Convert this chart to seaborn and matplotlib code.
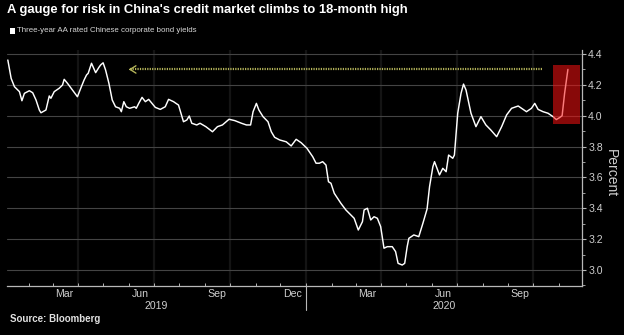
import matplotlib
matplotlib.use("Agg")
import matplotlib.pyplot as plt
import matplotlib.dates as mdates
import matplotlib.transforms as mtransforms
from matplotlib.patches import Rectangle
import pandas as pd
import seaborn as sns

# Three-year AA rated Chinese corporate bond yields (percent)
dates = [
    "2019-01-06", "2019-01-10", "2019-01-14", "2019-01-18", "2019-01-20", "2019-01-23",
    "2019-01-26", "2019-02-01", "2019-02-05", "2019-02-09", "2019-02-13", "2019-02-15",
    "2019-02-21", "2019-02-25", "2019-02-27", "2019-03-03", "2019-03-09", "2019-03-13",
    "2019-03-15", "2019-03-19", "2019-03-25", "2019-03-31", "2019-04-04", "2019-04-08",
    "2019-04-11", "2019-04-13", "2019-04-17", "2019-04-22", "2019-04-26", "2019-04-28",
    "2019-05-01", "2019-05-04", "2019-05-08", "2019-05-12", "2019-05-16", "2019-05-21",
    "2019-05-23", "2019-05-26", "2019-05-29", "2019-06-02", "2019-06-08", "2019-06-10",
    "2019-06-13", "2019-06-17", "2019-06-21", "2019-06-25", "2019-06-29", "2019-07-03",
    "2019-07-09", "2019-07-15", "2019-07-19", "2019-07-25", "2019-07-31", "2019-08-06",
    "2019-08-10", "2019-08-13", "2019-08-16", "2019-08-22", "2019-08-26", "2019-09-02",
    "2019-09-10", "2019-09-16", "2019-09-22", "2019-09-30", "2019-10-07", "2019-10-15",
    "2019-10-21", "2019-10-26", "2019-10-29", "2019-11-02", "2019-11-05", "2019-11-10",
    "2019-11-16", "2019-11-20", "2019-11-24", "2019-11-30", "2019-12-08", "2019-12-14",
    "2019-12-20", "2019-12-26", "2020-01-02", "2020-01-09", "2020-01-13", "2020-01-17",
    "2020-01-21", "2020-01-25", "2020-01-28", "2020-01-31", "2020-02-04", "2020-02-08",
    "2020-02-12", "2020-02-18", "2020-02-24", "2020-02-28", "2020-03-04", "2020-03-09",
    "2020-03-11", "2020-03-15", "2020-03-19", "2020-03-23", "2020-03-27", "2020-03-31",
    "2020-04-04", "2020-04-08", "2020-04-14", "2020-04-18", "2020-04-21", "2020-04-26",
    "2020-04-29", "2020-05-02", "2020-05-04", "2020-05-10", "2020-05-16", "2020-05-21",
    "2020-05-26", "2020-05-29", "2020-06-02", "2020-06-04", "2020-06-10", "2020-06-14",
    "2020-06-18", "2020-06-21", "2020-06-26", "2020-06-28", "2020-07-02", "2020-07-06",
    "2020-07-09", "2020-07-12", "2020-07-18", "2020-07-24", "2020-07-30", "2020-08-05",
    "2020-08-11", "2020-08-18", "2020-08-24", "2020-08-30", "2020-09-05", "2020-09-13",
    "2020-09-19", "2020-09-23", "2020-09-29", "2020-10-03", "2020-10-07", "2020-10-13",
    "2020-10-19", "2020-10-25", "2020-10-29", "2020-11-02", "2020-11-05", "2020-11-08",
    "2020-11-12",
]
yields = [
    4.361, 4.242, 4.188, 4.167, 4.156, 4.097,
    4.145, 4.162, 4.149, 4.102, 4.037, 4.019,
    4.037, 4.128, 4.113, 4.156, 4.178, 4.199,
    4.236, 4.210, 4.167, 4.123, 4.178, 4.231,
    4.264, 4.275, 4.340, 4.279, 4.314, 4.329,
    4.343, 4.296, 4.210, 4.102, 4.058, 4.048,
    4.026, 4.091, 4.058, 4.048, 4.058, 4.048,
    4.080, 4.119, 4.091, 4.106, 4.080, 4.054,
    4.041, 4.058, 4.106, 4.091, 4.069, 3.961,
    3.972, 3.998, 3.951, 3.940, 3.951, 3.929,
    3.896, 3.929, 3.940, 3.977, 3.968, 3.951,
    3.940, 3.940, 4.026, 4.080, 4.037, 3.994,
    3.961, 3.896, 3.860, 3.843, 3.831, 3.804,
    3.847, 3.825, 3.789, 3.734, 3.692, 3.692,
    3.702, 3.680, 3.572, 3.562, 3.497, 3.465,
    3.432, 3.389, 3.356, 3.335, 3.259, 3.313,
    3.389, 3.400, 3.324, 3.345, 3.335, 3.281,
    3.141, 3.151, 3.151, 3.119, 3.043, 3.032,
    3.043, 3.151, 3.205, 3.227, 3.216, 3.303,
    3.395, 3.540, 3.669, 3.702, 3.616, 3.659,
    3.637, 3.745, 3.724, 3.745, 4.016, 4.145,
    4.205, 4.167, 4.016, 3.929, 3.994, 3.940,
    3.907, 3.864, 3.929, 4.005, 4.048, 4.063,
    4.041, 4.026, 4.048, 4.080, 4.041, 4.026,
    4.016, 3.994, 3.975, 3.988, 4.000, 4.145,
    4.300,
]

title = "A gauge for risk in China's credit market climbs to 18-month high"
series_name = "Three-year AA rated Chinese corporate bond yields"
source_text = "Source: Bloomberg"
y_label = "Percent"
y_ticks = [3.0, 3.2, 3.4, 3.6, 3.8, 4.0, 4.2, 4.4]
month_labels = ["Mar", "Jun", "Sep", "Dec", "Mar", "Jun", "Sep"]
month_label_dates = ["2019-03-15", "2019-06-15", "2019-09-15", "2019-12-15",
                     "2020-03-15", "2020-06-15", "2020-09-15"]
year_labels = ["2019", "2020"]
x_range = ["2019-01-05", "2020-11-29"]
y_range = [2.896, 4.426]

# 18-month high reference and the highlighted latest move
high_level = 4.30
arrow_start, arrow_end = "2020-10-12", "2019-06-01"
box_start, box_end = "2020-10-25", "2020-11-27"
box_low, box_high = 3.945, 4.328

BG = "black"
GRID_H = "#444444"
GRID_V = "#141414"
AXIS = "#b8b8b8"
TICK_TXT = "#cfcfcf"
ARROW = "#b5b55a"

sns.set_theme(style="dark", rc={
    "figure.facecolor": BG, "axes.facecolor": BG, "savefig.facecolor": BG,
    "axes.edgecolor": AXIS, "text.color": "white",
    "xtick.color": AXIS, "ytick.color": AXIS,
})
plt.rcParams["font.family"] = ["Liberation Sans Narrow", "Liberation Sans", "DejaVu Sans"]

df = pd.DataFrame({"date": pd.to_datetime(dates), "yield": yields})

fig = plt.figure(figsize=(6.24, 3.35), dpi=100)
ax = fig.add_axes([7 / 624, 1 - 286 / 335, (582 - 7) / 624, (286 - 50) / 335])

sns.lineplot(data=df, x="date", y="yield", ax=ax, color="white", linewidth=1.05, zorder=3)

ax.set_xlim(pd.to_datetime(x_range[0]), pd.to_datetime(x_range[1]))
ax.set_ylim(*y_range)
ax.set_xlabel("")
ax.set_ylabel("")

# spines
for side in ("top", "left"):
    ax.spines[side].set_visible(False)
for side in ("bottom", "right"):
    ax.spines[side].set_visible(True)
    ax.spines[side].set_color(AXIS)
    ax.spines[side].set_linewidth(0.9)

# y axis on the right
ax.yaxis.tick_right()
ax.set_yticks(y_ticks)
ax.set_yticklabels([f"{v:.1f}" for v in y_ticks])
ax.yaxis.set_minor_locator(matplotlib.ticker.MultipleLocator(0.1))
ax.tick_params(axis="y", which="major", direction="out", length=3, width=0.8,
               pad=1.5, labelsize=7.6, labelcolor=TICK_TXT, right=True, left=False)
ax.tick_params(axis="y", which="minor", direction="out", length=2, width=0.6,
               right=True, left=False)
ax.grid(axis="y", which="major", color=GRID_H, linewidth=0.8)

# x axis: quarter gridlines, month ticks, centred month labels
ax.xaxis.set_major_locator(mdates.MonthLocator(bymonth=[1, 4, 7, 10]))
ax.xaxis.set_minor_locator(mdates.MonthLocator())
ax.xaxis.set_major_formatter(matplotlib.ticker.NullFormatter())
ax.tick_params(axis="x", which="both", direction="in", length=2.5, width=0.7,
               bottom=True, top=False, labelbottom=False)
ax.grid(axis="x", which="major", color=GRID_V, linewidth=1.6)

xtrans = mtransforms.blended_transform_factory(ax.transData, ax.transAxes)
for lab, d in zip(month_labels, month_label_dates):
    ax.text(pd.to_datetime(d), -0.032, lab, transform=xtrans, ha="center", va="center",
            fontsize=7.6, color=TICK_TXT)

# year labels centred on the visible part of each year, with a separator at the boundary
x0, x1 = ax.get_xlim()
for lab in year_labels:
    a = max(mdates.date2num(pd.Timestamp(f"{lab}-01-01")), x0)
    b = min(mdates.date2num(pd.Timestamp(f"{int(lab) + 1}-01-01")), x1)
    ax.text((a + b) / 2, -0.085, lab, transform=xtrans, ha="center", va="center",
            fontsize=7.6, color=TICK_TXT)
    if x0 < mdates.date2num(pd.Timestamp(f"{lab}-01-01")) < x1:
        ax.plot([pd.Timestamp(f"{lab}-01-01")] * 2, [0, -0.1], transform=xtrans,
                color=AXIS, linewidth=0.8, clip_on=False)

ax.text(1.05, 0.48, y_label, transform=ax.transAxes, rotation=270, ha="center",
        va="center", fontsize=10, color=TICK_TXT)

# dotted pointer back to the previous time yields were this high
ax.plot([pd.Timestamp(arrow_start), pd.Timestamp(arrow_end)], [high_level, high_level],
        color=ARROW, linewidth=1.6, linestyle=(0, (0.55, 0.55)), zorder=2)
ax.annotate("", xy=(pd.Timestamp(arrow_end), high_level),
            xytext=(pd.Timestamp(arrow_end) + pd.Timedelta(days=6), high_level),
            arrowprops=dict(arrowstyle="->,head_length=0.35,head_width=0.22",
                            color=ARROW, linewidth=1.0))

# highlight box on the latest spike
bx0 = mdates.date2num(pd.Timestamp(box_start))
bx1 = mdates.date2num(pd.Timestamp(box_end))
ax.add_patch(Rectangle((bx0, box_low), bx1 - bx0, box_high - box_low,
                       facecolor=(0.98, 0.07, 0.07), alpha=0.55, edgecolor="none", zorder=4))

# title, legend key and source
fig.text(7 / 624, 1 - 10.5 / 335, title, ha="left", va="center", fontsize=9.4,
         fontweight="bold", color="white")
fig.patches.append(Rectangle((10 / 624, 1 - 33.5 / 335), 5 / 624, 5 / 335,
                             transform=fig.transFigure, facecolor="white",
                             edgecolor="none"))
fig.text(17 / 624, 1 - 31 / 335, series_name, ha="left", va="center", fontsize=5.7,
         color="#d6d6d6")
fig.text(10 / 624, 1 - 318.5 / 335, source_text, ha="left", va="center", fontsize=7,
         fontweight="bold", color="#e0e0e0", family=["Liberation Sans", "DejaVu Sans"])

fig.savefig("out.png", dpi=100, facecolor=BG)
